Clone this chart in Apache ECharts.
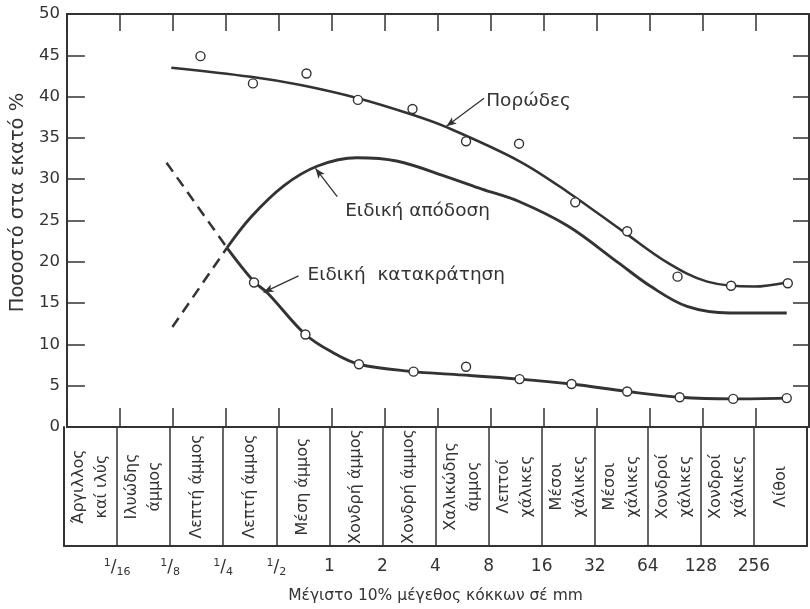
<!DOCTYPE html>
<html><head><meta charset="utf-8">
<script src="https://cdn.jsdelivr.net/npm/echarts@6/dist/echarts.min.js"></script>
<style>html,body{margin:0;padding:0;background:#fff}#c{width:810px;height:609px}</style>
</head><body><div id="c"></div>
<script>
// x values are log2 of grain size in mm (1/32 mm = -5 ... 512 mm = 9)
const tickExp    = [-4, -3, -2, -1, 0, 1, 2, 3, 4, 5, 6, 7, 8];
const tickLabels = ['1/16','1/8','1/4','1/2','1','2','4','8','16','32','64','128','256'];
const classCenters = [-4.5,-3.5,-2.5,-1.5,-0.5,0.5,1.5,2.5,3.5,4.5,5.5,6.5,7.5,8.5];
const classNames = [
  'Άργιλλος\nκαί ιλύς', 'Ιλυώδης\nάμμος', 'Λεπτή άμμος', 'Λεπτή άμμος', 'Μέση άμμος',
  'Χονδρή άμμος', 'Χονδρή άμμος', 'Χαλικώδης\nάμμος', 'Λεπτοί\nχάλικες', 'Μέσοι\nχάλικες',
  'Μέσοι\nχάλικες', 'Χονδροί\nχάλικες', 'Χονδροί\nχάλικες', 'Λίθοι'
];

// Porosity (Πορώδες): measured points and fitted curve
const porosityPtX = [-2.48,-1.49,-0.48,0.49,1.52,2.53,3.53,4.59,5.57,6.52,7.53,8.60];
const porosityPtY = [44.9, 41.6, 42.8, 39.6, 38.5, 34.6, 34.3, 27.2, 23.7, 18.2, 17.1, 17.4];
const porosityCurveX = [-3.03,-1.53,-0.59,0.49,1.52,2.16,3.53,4.46,5.53,6.33,7.08,7.96,8.58];
const porosityCurveY = [43.5, 42.4, 41.4, 39.8, 37.8, 36.3, 32.2, 28.4, 23.5, 19.9, 17.6, 17.0, 17.5];

// Specific yield (Ειδική απόδοση)
const yieldCurveX = [-1.98,-1.53,-0.91,-0.27,0.47,1.22,2.21,2.83,3.53,4.46,5.40,6.02,6.70,7.51,8.58];
const yieldCurveY = [21.7, 25.4, 29.2, 31.6, 32.6, 32.2, 30.2, 28.8, 27.3, 24.3, 19.9, 17.0, 14.6, 13.8, 13.8];
const yieldDashX = [-3.01, -1.98];
const yieldDashY = [12.1, 21.7];

// Specific retention (Ειδική κατακράτηση)
const retentionPtX = [-1.47,-0.50,0.51,1.54,2.53,3.54,4.52,5.57,6.56,7.57,8.58];
const retentionPtY = [17.5, 11.2, 7.6, 6.7, 7.3, 5.8, 5.2, 4.3, 3.6, 3.4, 3.5];
const retentionCurveX = [-1.98,-1.47,-1.21,-0.50,0.02,0.51,1.54,2.21,3.54,4.52,5.57,6.56,7.57,8.58];
const retentionCurveY = [21.7, 17.6, 16.2, 11.2, 9.0, 7.6, 6.7, 6.4, 5.8, 5.2, 4.3, 3.6, 3.4, 3.5];
const retentionDashX = [-3.12, -1.98];
const retentionDashY = [32.0, 21.7];

// Annotations
const noteNames = ['Πορώδες', 'Ειδική απόδοση', 'Ειδική  κατακράτηση'];
const noteX = [2.91, 0.25, -0.46];
const noteY = [39.4, 26.1, 18.4];
const arrowFrom = [[2.87, 39.8], [0.10, 27.9], [-0.63, 18.3]];
const arrowTo   = [[2.16, 36.4], [-0.31, 31.3], [-1.29, 16.3]];
const arrowBend = [-0.3, 0.3, -0.1];

const FONT = 'DejaVu Sans';
const INK = '#333333';
const zip = (a, b) => a.map((v, i) => [v, b[i]]);

const chart = echarts.init(document.getElementById('c'), null, {renderer: 'canvas'});

const baseX = (grid, pos) => ({
  type: 'value', gridIndex: grid, position: pos, min: -5, max: 9, interval: 1,
  axisLine: {show: true, onZero: false, lineStyle: {color: INK, width: 2}},
  splitLine: {show: false}, axisLabel: {show: false}
});
const baseY = (grid, pos, min, max, interval) => ({
  type: 'value', gridIndex: grid, position: pos, min: min, max: max, interval: interval,
  axisLine: {show: true, onZero: false, lineStyle: {color: INK, width: 2}},
  splitLine: {show: false}, axisLabel: {show: false}, axisTick: {show: false}
});

const xAxes = [
  Object.assign(baseX(0, 'bottom'), {axisTick: {show: true, inside: true, length: 19, lineStyle: {color: INK, width: 1.5}}}),
  Object.assign(baseX(0, 'top'), {axisTick: {show: true, inside: true, length: 17, lineStyle: {color: INK, width: 1.5}}}),
  Object.assign(baseX(1, 'bottom'), {
    axisTick: {show: false},
    splitLine: {show: true, lineStyle: {color: INK, width: 1.5}},
    axisLabel: {
      show: true, margin: 12, color: INK, fontFamily: FONT, fontSize: 17,
      formatter: v => {
        const i = tickExp.indexOf(Math.round(v));
        if (i < 0 || Math.abs(v - Math.round(v)) > 1e-6) return '';
        const t = tickLabels[i];
        if (t.indexOf('/') >= 0) {
          const p = t.split('/');
          return '{n|' + p[0] + '}{s|/}{d|' + p[1] + '}';
        }
        return t;
      },
      rich: {
        n: {fontSize: 11, fontFamily: FONT, color: INK, verticalAlign: 'top', lineHeight: 20},
        s: {fontSize: 17, fontFamily: FONT, color: INK, lineHeight: 20},
        d: {fontSize: 11, fontFamily: FONT, color: INK, verticalAlign: 'bottom', lineHeight: 20}
      }
    },
    name: 'Μέγιστο 10% μέγεθος κόκκων σέ mm', nameLocation: 'middle', nameGap: 42,
    nameTextStyle: {fontFamily: FONT, fontSize: 15.5, color: INK}
  })
];

const yAxes = [
  Object.assign(baseY(0, 'left', 0, 50, 5), {
    axisTick: {show: true, inside: true, length: 18, lineStyle: {color: INK, width: 1.5}},
    axisLabel: {show: true, margin: 7, color: INK, fontFamily: FONT, fontSize: 16.5},
    name: 'Ποσοστό στα εκατό %', nameLocation: 'middle', nameGap: 36,
    nameTextStyle: {fontFamily: FONT, fontSize: 19.5, color: INK, padding: [0, 0, 0, 36]}
  }),
  Object.assign(baseY(0, 'right', 0, 50, 5), {
    axisTick: {show: true, inside: true, length: 16, lineStyle: {color: INK, width: 1.5}}
  }),
  baseY(1, 'left', 0, 1, 1),
  baseY(1, 'right', 0, 1, 1)
];

const lineSeries = (xs, ys, opts) => Object.assign({
  type: 'line', xAxisIndex: 0, yAxisIndex: 0, data: zip(xs, ys),
  symbol: 'none', smooth: 0.35, silent: true,
  lineStyle: {color: INK, width: 2.6}
}, opts || {});

const pointSeries = (xs, ys) => ({
  type: 'scatter', xAxisIndex: 0, yAxisIndex: 0, data: zip(xs, ys), silent: true,
  symbol: 'circle', symbolSize: 9, z: 5,
  itemStyle: {color: '#fff', opacity: 1, borderColor: INK, borderWidth: 1.4}
});

const option = {
  animation: false,
  backgroundColor: '#fff',
  grid: [
    {left: 64, right: 1, top: 14, height: 413},
    {left: 64, right: 1, top: 427, height: 119}
  ],
  xAxis: xAxes,
  yAxis: yAxes,
  series: [
    lineSeries(porosityCurveX, porosityCurveY, {lineStyle: {color: INK, width: 2.5}}),
    lineSeries(yieldCurveX, yieldCurveY, {lineStyle: {color: INK, width: 2.9}}),
    lineSeries(retentionCurveX, retentionCurveY, {lineStyle: {color: INK, width: 2.9}}),
    lineSeries(yieldDashX, yieldDashY, {smooth: false, lineStyle: {color: INK, width: 2.5, type: [11, 7]}}),
    lineSeries(retentionDashX, retentionDashY, {smooth: false, lineStyle: {color: INK, width: 2.5, type: [11, 7]}}),
    pointSeries(porosityPtX, porosityPtY),
    pointSeries(retentionPtX, retentionPtY),
    {
      type: 'scatter', xAxisIndex: 0, yAxisIndex: 0, silent: true, symbolSize: 0,
      itemStyle: {opacity: 1},
      data: noteNames.map((n, i) => ({name: n, value: [noteX[i], noteY[i]]})),
      label: {show: true, position: 'right', distance: 0, formatter: '{b}',
              fontFamily: FONT, fontSize: 18.5, color: INK},
      markLine: {
        silent: true, symbol: ['none', 'arrow'], symbolSize: [6, 10],
        label: {show: false},
        data: arrowFrom.map((f, i) => [
          {coord: f, lineStyle: {color: INK, width: 1.3, type: 'solid', opacity: 1, curveness: arrowBend[i]}},
          {coord: arrowTo[i]}
        ])
      }
    },
    {
      type: 'scatter', xAxisIndex: 2, yAxisIndex: 2, silent: true, symbolSize: 0,
      itemStyle: {opacity: 1},
      data: classNames.map((n, i) => ({name: n, value: [classCenters[i], 0.5]})),
      label: {show: true, position: 'inside', rotate: 90, formatter: '{b}',
              align: 'center', verticalAlign: 'middle', lineHeight: 23,
              fontFamily: FONT, fontSize: 16, color: INK}
    }
  ]
};
chart.setOption(option);
</script>
</body></html>
